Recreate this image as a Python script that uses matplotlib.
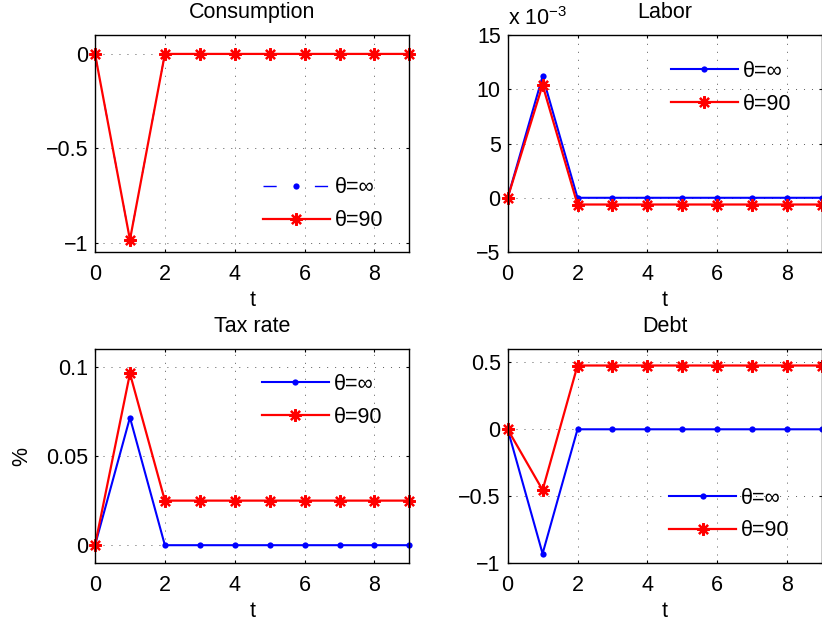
#!/usr/bin/env python3
"""Impulse responses: theta=inf vs theta=90, four panels."""

import matplotlib
matplotlib.use("Agg")
import matplotlib.pyplot as plt
from matplotlib.ticker import FuncFormatter

FS = 15.5
plt.rcParams["font.family"] = ["Liberation Sans", "DejaVu Sans"]
plt.rcParams["mathtext.fontset"] = "custom"
plt.rcParams["mathtext.rm"] = "Liberation Sans"
plt.rcParams["font.size"] = FS

t = [0, 1, 2, 3, 4, 5, 6, 7, 8, 9]

cons_inf = [0, -0.985, 0, 0, 0, 0, 0, 0, 0, 0]
cons_90 = [0, -0.985, 0, 0, 0, 0, 0, 0, 0, 0]

labor_inf = [0, 0.0112, 0, 0, 0, 0, 0, 0, 0, 0]
labor_90 = [0, 0.0104, -0.00062, -0.00062, -0.00062, -0.00062,
            -0.00062, -0.00062, -0.00062, -0.00062]

tax_inf = [0, 0.0716, 0, 0, 0, 0, 0, 0, 0, 0]
tax_90 = [0, 0.0963, 0.025, 0.025, 0.025, 0.025, 0.025, 0.025, 0.025, 0.025]

debt_inf = [0, -0.93, 0, 0, 0, 0, 0, 0, 0, 0]
debt_90 = [0, -0.454, 0.477, 0.477, 0.477, 0.477, 0.477, 0.477, 0.477, 0.477]

xticks = [0, 2, 4, 6, 8]
labels = ["θ=∞", "θ=90"]

ASTERISK = (8, 2, 0)


def fmt(v, _pos):
    return f"{v:g}".replace("-", "\u2212")


def style_axes(ax, title, ylim, yticks):
    ax.set_xlim(0, 9)
    ax.set_ylim(*ylim)
    ax.set_xticks(xticks)
    ax.set_yticks(yticks)
    ax.yaxis.set_major_formatter(FuncFormatter(fmt))
    ax.tick_params(direction="in", top=True, right=True, length=2.5, width=0.8)
    ax.tick_params(axis="x", pad=8.5)
    ax.tick_params(axis="y", pad=5)
    ax.grid(True, color="0.15", linewidth=0.5, linestyle=(0, (1.5, 10)))
    ax.set_axisbelow(True)
    for sp in ax.spines.values():
        sp.set_linewidth(1.0)
    ax.set_title(title, fontsize=FS, pad=12)
    ax.set_xlabel("t", labelpad=3.5)


def draw(ax, y_inf, y_90, scale=1.0, blue_style="-", blue_lw=1.5):
    kw = dict(clip_on=False)
    line_inf, = ax.plot(t, [v / scale for v in y_inf], color="blue", linestyle=blue_style,
                        linewidth=blue_lw, marker="o", markersize=4.5, markeredgewidth=0, **kw)
    line_90, = ax.plot(t, [v / scale for v in y_90], color="red", linewidth=1.6,
                       marker=ASTERISK, markersize=9, markeredgewidth=1.6, **kw)
    return line_inf, line_90


def add_legend(ax, handles, x, y):
    ax.legend(handles, labels, loc="center left", bbox_to_anchor=(x, y), frameon=False,
              borderpad=0, borderaxespad=0, handlelength=3.1, handletextpad=0.23,
              labelspacing=0.55, numpoints=1, fontsize=FS)


fig = plt.figure(figsize=(8.22, 6.26), dpi=100)
w, h_top, h_bot = 0.3824, 0.3466, 0.3418
ax1 = fig.add_axes([0.1156, 0.5974, w, h_top])
ax2 = fig.add_axes([0.6176, 0.5974, w, h_top])
ax3 = fig.add_axes([0.1156, 0.1006, w, h_bot])
ax4 = fig.add_axes([0.6176, 0.1006, w, h_bot])

# Consumption: both paths coincide, blue is dashed underneath
h = draw(ax1, cons_inf, cons_90, blue_style=(0, (9.5, 27.5)), blue_lw=1.0)
style_axes(ax1, "Consumption", (-1.05, 0.1), [-1, -0.5, 0])
add_legend(ax1, h, 0.5345, 0.220)

# Labor, shown in units of 1e-3
h = draw(ax2, labor_inf, labor_90, scale=1e-3)
style_axes(ax2, "Labor", (-5, 15), [-5, 0, 5, 10, 15])
ax2.text(0.002, 1.046, r"x 10$^{\mathregular{\minus 3}}$", transform=ax2.transAxes,
         ha="left", va="baseline", fontsize=FS)
add_legend(ax2, h, 0.52, 0.757)

h = draw(ax3, tax_inf, tax_90)
style_axes(ax3, "Tax rate", (-0.01, 0.11), [0, 0.05, 0.1])
ax3.set_ylabel("%")
ax3.yaxis.set_label_coords(-0.2, 0.5)
add_legend(ax3, h, 0.531, 0.758)

h = draw(ax4, debt_inf, debt_90)
style_axes(ax4, "Debt", (-1, 0.6), [-1, -0.5, 0, 0.5])
add_legend(ax4, h, 0.514, 0.2266)

fig.savefig("out.png", dpi=100)
